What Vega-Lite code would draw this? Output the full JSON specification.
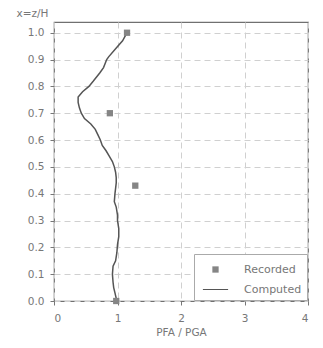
{
  "$schema": "https://vega.github.io/schema/vega-lite/v6.json",
  "autosize": {"type": "none"},
  "padding": {"left": 54, "top": 22, "right": 15, "bottom": 47},
  "width": 254,
  "height": 279,
  "background": "white",
  "config": {
    "view": {"stroke": "#707070", "strokeWidth": 1.2},
    "font": "DejaVu Sans",
    "axis": {"labelFont": "DejaVu Sans", "titleFont": "DejaVu Sans", "labelColor": "#777", "titleColor": "#777", "labelFontSize": 10.5, "titleFontSize": 10.5, "titleFontWeight": "normal", "domain": false, "tickColor": "#777", "tickSize": 4, "gridColor": "#d0d0d0", "gridDash": [6, 4], "gridWidth": 1},
    "legend": {"title": null, "orient": "bottom-right", "offset": 1, "symbolSize": 441, "symbolStrokeWidth": 0, "symbolOffset": 6, "labelFont": "DejaVu Sans", "labelFontSize": 11, "labelColor": "#777", "strokeColor": "#aaa", "padding": 5, "rowPadding": 4, "labelOffset": 18, "fillColor": "white"}
  },
  "datasets": {
    "computed": [
      {"x": 1.15, "z": 1.0}, {"x": 1.08, "z": 0.97}, {"x": 0.97, "z": 0.94}, {"x": 0.86, "z": 0.91},
      {"x": 0.83, "z": 0.9}, {"x": 0.78, "z": 0.87}, {"x": 0.72, "z": 0.85}, {"x": 0.62, "z": 0.82},
      {"x": 0.55, "z": 0.8}, {"x": 0.45, "z": 0.78}, {"x": 0.38, "z": 0.76}, {"x": 0.38, "z": 0.74},
      {"x": 0.4, "z": 0.72}, {"x": 0.43, "z": 0.7}, {"x": 0.48, "z": 0.68}, {"x": 0.58, "z": 0.66},
      {"x": 0.65, "z": 0.64}, {"x": 0.69, "z": 0.62}, {"x": 0.73, "z": 0.6}, {"x": 0.76, "z": 0.58},
      {"x": 0.82, "z": 0.56}, {"x": 0.87, "z": 0.54}, {"x": 0.92, "z": 0.52}, {"x": 0.95, "z": 0.5},
      {"x": 0.97, "z": 0.48}, {"x": 0.98, "z": 0.46}, {"x": 0.98, "z": 0.44}, {"x": 0.97, "z": 0.42},
      {"x": 0.96, "z": 0.4}, {"x": 0.95, "z": 0.37}, {"x": 0.98, "z": 0.35}, {"x": 1.0, "z": 0.32},
      {"x": 1.0, "z": 0.3}, {"x": 1.02, "z": 0.27}, {"x": 1.02, "z": 0.24}, {"x": 1.0, "z": 0.21},
      {"x": 0.99, "z": 0.18}, {"x": 0.97, "z": 0.15}, {"x": 0.93, "z": 0.13}, {"x": 0.92, "z": 0.1},
      {"x": 0.93, "z": 0.07}, {"x": 0.94, "z": 0.05}, {"x": 0.96, "z": 0.03}, {"x": 0.98, "z": 0.01},
      {"x": 0.98, "z": 0.0}
    ],
    "recorded": [
      {"x": 1.15, "z": 1.0, "series": "Recorded"},
      {"x": 0.88, "z": 0.7, "series": "Recorded"},
      {"x": 1.28, "z": 0.43, "series": "Recorded"},
      {"x": 0.98, "z": 0.0, "series": "Recorded"}
    ]
  },
  "encoding": {
    "x": {"field": "x", "type": "quantitative", "scale": {"domain": [0, 4], "nice": false}, "axis": {"values": [0, 1, 2, 3, 4], "title": "PFA / PGA", "titleY": 31, "titleBaseline": "middle", "labelPadding": 8, "format": "d"}},
    "y": {"field": "z", "type": "quantitative", "scale": {"domain": [0, 1.04], "nice": false}, "axis": {"values": [0, 0.1, 0.2, 0.3, 0.4, 0.5, 0.6, 0.7, 0.8, 0.9, 1.0], "format": ".1f", "title": "x=z/H", "titleAngle": 0, "titleAlign": "left", "titleBaseline": "middle", "titleX": -38, "titleY": -9, "labelPadding": 6}}
  },
  "layer": [
    {
      "data": {"name": "computed"},
      "mark": {"type": "line", "color": "#555", "strokeWidth": 1.5},
      "encoding": {"order": {"field": "z", "type": "quantitative"}}
    },
    {
      "data": {"name": "recorded"},
      "mark": {"type": "point", "filled": true, "opacity": 1, "size": 441, "strokeWidth": 0},
      "encoding": {
        "color": {"field": "series", "type": "nominal", "scale": {"domain": ["Recorded", "Computed"], "range": ["#858585", "#555555"]}},
        "shape": {"field": "series", "type": "nominal", "scale": {"domain": ["Recorded", "Computed"], "range": ["M-0.3,-0.3H0.3V0.3H-0.3Z", "M-1.2,-0.05H1.2V0.05H-1.2Z"]}}
      }
    }
  ]
}
